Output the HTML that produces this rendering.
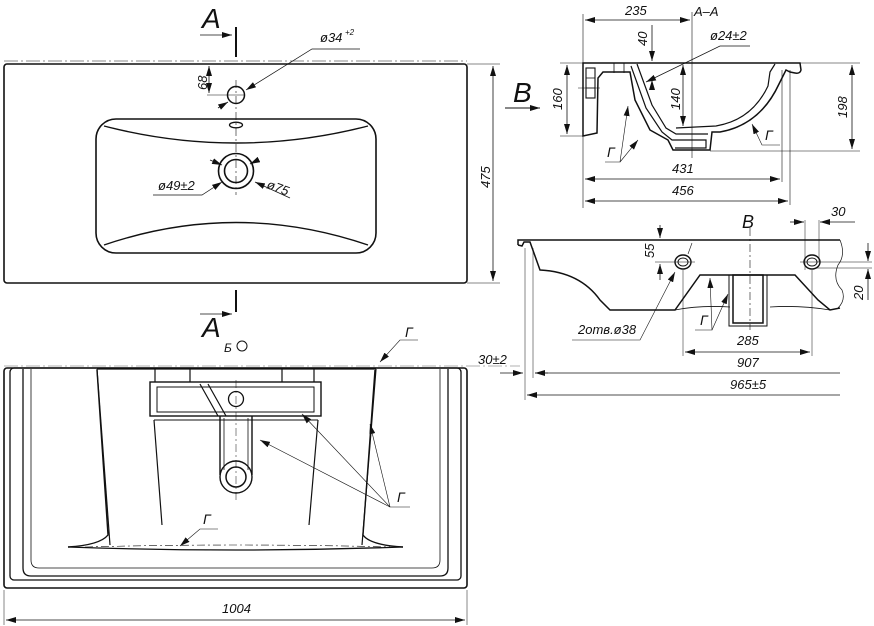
<!DOCTYPE html>
<html><head><meta charset="utf-8"><style>
html,body{margin:0;padding:0;background:#fff}
svg{display:block}
text{font-family:"Liberation Sans","DejaVu Sans",sans-serif;font-style:italic;fill:#111}
</style></head><body>
<svg width="874" height="626" viewBox="0 0 874 626" xmlns="http://www.w3.org/2000/svg">
<defs>
<marker id="a" viewBox="0 0 10 6" refX="10" refY="3" markerWidth="10" markerHeight="6" orient="auto-start-reverse" markerUnits="userSpaceOnUse"><path d="M0,0L10,3L0,6z" fill="#111"/></marker>
</defs>
<g fill="none" stroke="#111">
<!-- TOP VIEW -->
<line x1="4" y1="61" x2="467" y2="61" stroke-width="0.7" stroke-dasharray="14,3,2,3" stroke="#666"/>
<rect x="4" y="64" width="463" height="219" rx="3" stroke-width="1.6"/>
<rect x="96" y="119" width="280" height="134" rx="20" stroke-width="1.6"/>
<path d="M104,126 Q236,160 368,126" stroke-width="1.4"/>
<path d="M104,245 Q236,200 368,245" stroke-width="1.4"/>
<circle cx="236" cy="95" r="8.5" stroke-width="1.5"/>
<ellipse cx="236" cy="125" rx="6.5" ry="2.8" stroke-width="1.3"/>
<circle cx="236" cy="171" r="17.5" stroke-width="1.6"/>
<circle cx="236" cy="171" r="11.5" stroke-width="1.6"/>
<line x1="236" y1="80" x2="236" y2="195" stroke-width="0.6" stroke-dasharray="8,3,2,3"/>
<line x1="207" y1="95" x2="245" y2="95" stroke-width="0.6"/>
<line x1="236" y1="27" x2="236" y2="57" stroke-width="2"/>
<line x1="200" y1="35" x2="232" y2="35" stroke-width="0.8" marker-end="url(#a)"/>
<line x1="236" y1="290" x2="236" y2="312" stroke-width="2"/>
<line x1="200" y1="314" x2="232" y2="314" stroke-width="0.8" marker-end="url(#a)"/>
<line x1="493" y1="66" x2="493" y2="281" stroke-width="0.8" marker-start="url(#a)" marker-end="url(#a)"/>
<line x1="467" y1="64" x2="500" y2="64" stroke-width="0.6"/>
<line x1="467" y1="283" x2="500" y2="283" stroke-width="0.6"/>
<line x1="209" y1="66" x2="209" y2="93" stroke-width="0.8" marker-start="url(#a)" marker-end="url(#a)"/>
<path d="M360,49 L312,49 L246,90" stroke-width="0.7" marker-end="url(#a)"/>
<line x1="218" y1="108" x2="228" y2="102" stroke-width="0.8" marker-end="url(#a)"/>
<path d="M153,195 L202,195 L222,182" stroke-width="0.7" marker-end="url(#a)"/>
<line x1="210" y1="160" x2="222" y2="165" stroke-width="0.8" marker-end="url(#a)"/>
<line x1="290" y1="198" x2="255" y2="182" stroke-width="0.7" marker-end="url(#a)"/>
<line x1="258" y1="160" x2="250" y2="164" stroke-width="0.8" marker-end="url(#a)"/>

<!-- SECTION A-A -->
<line x1="583" y1="14" x2="583" y2="208" stroke-width="0.6"/>
<line x1="692" y1="12" x2="692" y2="158" stroke-width="0.6"/>
<line x1="585" y1="20" x2="690" y2="20" stroke-width="0.8" marker-start="url(#a)" marker-end="url(#a)"/>
<line x1="652" y1="25" x2="652" y2="61" stroke-width="0.8" marker-end="url(#a)"/>
<line x1="652" y1="90" x2="652" y2="80" stroke-width="0.8" marker-end="url(#a)"/>
<line x1="683" y1="65" x2="683" y2="126" stroke-width="0.8" marker-start="url(#a)" marker-end="url(#a)"/>
<line x1="567" y1="65" x2="567" y2="134" stroke-width="0.8" marker-start="url(#a)" marker-end="url(#a)"/>
<line x1="852" y1="65" x2="852" y2="149" stroke-width="0.8" marker-start="url(#a)" marker-end="url(#a)"/>
<line x1="560" y1="63" x2="860" y2="63" stroke-width="0.6"/>
<line x1="560" y1="136" x2="585" y2="136" stroke-width="0.6"/>
<line x1="710" y1="151" x2="860" y2="151" stroke-width="0.6"/>
<line x1="782" y1="70" x2="782" y2="182" stroke-width="0.6"/>
<line x1="790" y1="70" x2="790" y2="205" stroke-width="0.6"/>
<line x1="585" y1="179" x2="780" y2="179" stroke-width="0.8" marker-start="url(#a)" marker-end="url(#a)"/>
<line x1="585" y1="201" x2="788" y2="201" stroke-width="0.8" marker-start="url(#a)" marker-end="url(#a)"/>
<path d="M750,46 L720,46 L646,82" stroke-width="0.7" marker-end="url(#a)"/>
<line x1="505" y1="108" x2="540" y2="108" stroke-width="0.9" marker-end="url(#a)"/>
<!-- section body -->
<path d="M583,63 L800,63 L801,70 Q800,74 795,73 L790,72 L786,70 L779,84 Q760,125 720,132 L712,132 L710,150 L673,150 L668,140 L650,130 L635,100 L630,72 L603,72 L598,78 L597,133 L583,136 Z" stroke-width="1.5"/>
<path d="M637,64 L652,105 L666,128 L676,134 L708,134" stroke-width="1.2"/>
<path d="M631,66 L646,108 L662,132 L672,140 L706,140 L706,148 L675,148" stroke-width="1.2"/>
<path d="M775,64 L770,72 L768,86 Q752,120 716,126 L676,128" stroke-width="1.2"/>
<rect x="586" y="68" width="9" height="30" stroke-width="1.1"/>
<line x1="586" y1="78" x2="595" y2="78" stroke-width="0.8"/>
<line x1="586" y1="88" x2="595" y2="88" stroke-width="0.8"/>
<line x1="614" y1="63" x2="614" y2="73" stroke-width="0.8"/>
<line x1="624" y1="63" x2="624" y2="73" stroke-width="0.8"/>
<line x1="578" y1="88" x2="600" y2="88" stroke-width="0.5"/>
<path d="M605,162 L620,162 L628,106" stroke-width="0.6" marker-end="url(#a)"/>
<line x1="620" y1="162" x2="638" y2="140" stroke-width="0.6" marker-end="url(#a)"/>
<path d="M780,145 L762,145 L752,124" stroke-width="0.6" marker-end="url(#a)"/>

<!-- VIEW B -->
<line x1="750" y1="228" x2="750" y2="330" stroke-width="0.6" stroke-dasharray="8,3,2,3"/>
<path d="M518,245 L518,240 L840,240" stroke-width="1.5"/>
<path d="M518,245 L522,246 L524,242 L530,242 L540,270 Q580,272 600,300 L610,310 L675,310 L700,275 L795,275 L818,300 L830,310 L840,308" stroke-width="1.5"/>
<path d="M840,240 Q846,255 838,265 Q832,280 842,290 Q846,300 838,308" stroke-width="0.7"/>
<path d="M675,310 Q700,305 730,307 M770,307 Q800,305 830,310" stroke-width="0.8"/>
<rect x="733" y="275" width="30" height="48" stroke-width="1.5"/>
<path d="M729,275 L729,326 L767,326 L767,275" stroke-width="1"/>
<ellipse cx="683" cy="262" rx="8" ry="7" stroke-width="1.4"/>
<ellipse cx="683" cy="262" rx="5" ry="4" stroke-width="1"/>
<ellipse cx="812" cy="262" rx="8" ry="7" stroke-width="1.4"/>
<ellipse cx="812" cy="262" rx="5" ry="4" stroke-width="1"/>
<line x1="660" y1="225" x2="660" y2="238" stroke-width="0.8" marker-end="url(#a)"/>
<line x1="660" y1="280" x2="660" y2="264" stroke-width="0.8" marker-end="url(#a)"/>
<line x1="655" y1="262" x2="695" y2="262" stroke-width="0.5"/>
<line x1="800" y1="262" x2="872" y2="262" stroke-width="0.5"/>
<line x1="815" y1="268" x2="872" y2="268" stroke-width="0.5"/>
<line x1="868" y1="243" x2="868" y2="261" stroke-width="0.8" marker-end="url(#a)"/>
<line x1="868" y1="300" x2="868" y2="269" stroke-width="0.8" marker-end="url(#a)"/>
<line x1="805" y1="220" x2="805" y2="270" stroke-width="0.5"/>
<line x1="819" y1="220" x2="819" y2="262" stroke-width="0.5"/>
<line x1="790" y1="222" x2="804" y2="222" stroke-width="0.8" marker-end="url(#a)"/>
<line x1="855" y1="222" x2="820" y2="222" stroke-width="0.8" marker-end="url(#a)"/>
<line x1="683" y1="270" x2="683" y2="356" stroke-width="0.5"/>
<line x1="812" y1="270" x2="812" y2="356" stroke-width="0.5"/>
<line x1="685" y1="352" x2="810" y2="352" stroke-width="0.8" marker-start="url(#a)" marker-end="url(#a)"/>
<line x1="525" y1="248" x2="525" y2="400" stroke-width="0.5"/>
<line x1="533" y1="248" x2="533" y2="378" stroke-width="0.5"/>
<line x1="535" y1="373" x2="840" y2="373" stroke-width="0.7"/>
<line x1="500" y1="373" x2="523" y2="373" stroke-width="0.8" marker-end="url(#a)"/>
<line x1="548" y1="373" x2="535" y2="373" stroke-width="0.8" marker-end="url(#a)"/>
<line x1="527" y1="395" x2="840" y2="395" stroke-width="0.8" marker-start="url(#a)"/>
<path d="M572,340 L640,340 L675,272" stroke-width="0.6" marker-end="url(#a)"/>
<line x1="692" y1="243" x2="688" y2="254" stroke-width="0.6"/>
<path d="M695,330 L712,330 L710,278" stroke-width="0.6" marker-end="url(#a)"/>
<line x1="712" y1="330" x2="728" y2="294" stroke-width="0.6" marker-end="url(#a)"/>

<!-- BOTTOM VIEW -->
<line x1="4" y1="366" x2="520" y2="366" stroke-width="0.6" stroke-dasharray="14,3,2,3" stroke="#666"/>
<rect x="4" y="368" width="463" height="220" rx="3" stroke-width="1.6"/>
<rect x="10" y="368" width="451" height="212" rx="4" stroke-width="1.3"/>
<path d="M23,369 L23,568 Q23,576 31,576 L440,576 Q448,576 448,568 L448,369" stroke-width="1.3"/>
<path d="M31,369 L31,560 Q31,568 39,568 L432,568 Q440,568 440,560 L440,369" stroke-width="0.8"/>
<path d="M97,369 L110,545" stroke-width="1.2"/>
<path d="M376,369 L362,545" stroke-width="1.2"/>
<path d="M97,369 L376,369" stroke-width="1.2"/>
<path d="M68,547 Q100,545 108,535 L97,370" stroke-width="1.4"/>
<path d="M403,547 Q370,545 363,535 L375,370" stroke-width="1.4"/>
<path d="M68,547 Q236,553 403,547" stroke-width="1.3"/>
<path d="M85,547 Q236,543 390,547" stroke-width="0.6" stroke-dasharray="8,3,2,3"/>
<path d="M155,369 L155,382 M190,369 L190,382 M282,369 L282,382 M314,369 L314,382" stroke-width="1.2"/>
<rect x="150" y="382" width="171" height="34" stroke-width="1.4"/>
<rect x="157" y="387" width="157" height="25" stroke-width="1"/>
<path d="M154,420 L162,525 M318,420 L309,525" stroke-width="1.2"/>
<path d="M154,420 L318,420" stroke-width="1"/>
<path d="M200,384 L218,416 M208,384 L226,416" stroke-width="1.2"/>
<circle cx="236" cy="399" r="7.5" stroke-width="1.3"/>
<path d="M220,416 L220,475 M252,416 L252,475" stroke-width="1.4"/>
<path d="M224,418 L224,470 M248,418 L248,470" stroke-width="0.8"/>
<circle cx="236" cy="477" r="16" stroke-width="1.4"/>
<circle cx="236" cy="477" r="10" stroke-width="1.5"/>
<line x1="236" y1="380" x2="236" y2="500" stroke-width="0.5" stroke-dasharray="8,3,2,3"/>
<path d="M418,340 L400,340 L380,362" stroke-width="0.6" marker-end="url(#a)"/>
<path d="M410,507 L390,507 L260,440" stroke-width="0.6" marker-end="url(#a)"/>
<line x1="390" y1="507" x2="302" y2="414" stroke-width="0.6" marker-end="url(#a)"/>
<line x1="390" y1="507" x2="370" y2="424" stroke-width="0.6" marker-end="url(#a)"/>
<path d="M218,529 L200,529 L180,546" stroke-width="0.6" marker-end="url(#a)"/>
<line x1="4" y1="590" x2="4" y2="625" stroke-width="0.5"/>
<line x1="467" y1="590" x2="467" y2="625" stroke-width="0.5"/>
<line x1="6" y1="620" x2="465" y2="620" stroke-width="0.8" marker-start="url(#a)" marker-end="url(#a)"/>
<circle cx="242" cy="346" r="5" stroke-width="1"/>
</g>
<g>
<text x="202" y="28" font-size="28" font-style="normal">A</text>
<text x="202" y="337" font-size="28" font-style="normal">A</text>
<text x="513" y="102" font-size="28" font-style="normal">B</text>
<text x="320" y="42" font-size="13">ø34</text><text x="345" y="35" font-size="8">+2</text>
<text x="158" y="190" font-size="13">ø49±2</text>
<text x="266" y="188" font-size="13" transform="rotate(20 266 188)">ø75</text>
<text x="207" y="90" font-size="13" transform="rotate(-90 207 90)">68</text>
<text x="490" y="188" font-size="13" transform="rotate(-90 490 188)">475</text>
<text x="625" y="15" font-size="13">235</text>
<text x="694" y="16" font-size="13">A–A</text>
<text x="647" y="46" font-size="13" transform="rotate(-90 647 46)">40</text>
<text x="710" y="40" font-size="13">ø24±2</text>
<text x="680" y="110" font-size="13" transform="rotate(-90 680 110)">140</text>
<text x="562" y="110" font-size="13" transform="rotate(-90 562 110)">160</text>
<text x="847" y="118" font-size="13" transform="rotate(-90 847 118)">198</text>
<text x="672" y="173" font-size="13">431</text>
<text x="672" y="195" font-size="13">456</text>
<text x="607" y="157" font-size="14">Г</text>
<text x="765" y="140" font-size="14">Г</text>
<text x="742" y="228" font-size="18">B</text>
<text x="831" y="216" font-size="13">30</text>
<text x="654" y="258" font-size="13" transform="rotate(-90 654 258)">55</text>
<text x="863" y="300" font-size="13" transform="rotate(-90 863 300)">20</text>
<text x="578" y="334" font-size="13">2отв.ø38</text>
<text x="700" y="325" font-size="14">Г</text>
<text x="737" y="345" font-size="13">285</text>
<text x="737" y="367" font-size="13">907</text>
<text x="730" y="389" font-size="13">965±5</text>
<text x="478" y="364" font-size="13">30±2</text>
<text x="224" y="352" font-size="12">Б</text>
<text x="405" y="337" font-size="14">Г</text>
<text x="397" y="502" font-size="14">Г</text>
<text x="203" y="524" font-size="14">Г</text>
<text x="222" y="613" font-size="13">1004</text>
</g>
</svg>
</body></html>
